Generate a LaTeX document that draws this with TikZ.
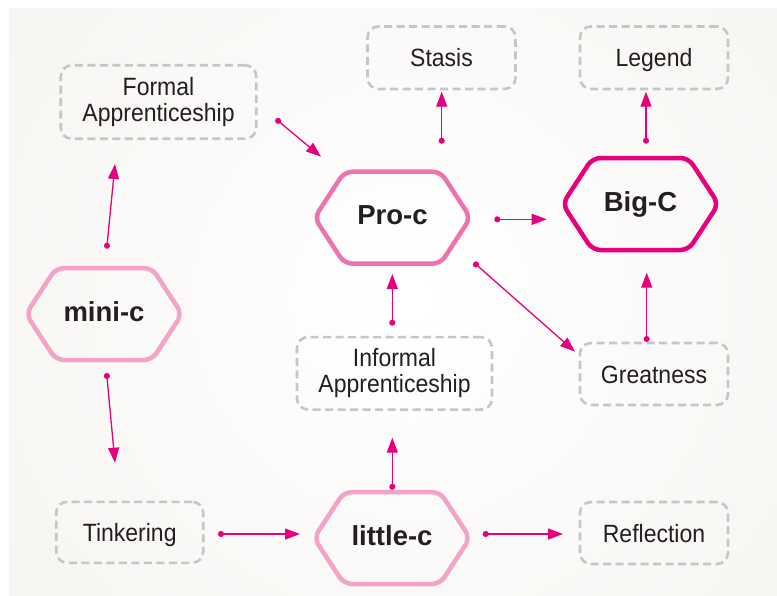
\documentclass[tikz,border=0pt]{standalone}
\usepackage{fontspec}
\setmainfont{Liberation Sans}
\newfontfamily\boxfont[FakeStretch=0.92]{Liberation Sans}
\usetikzlibrary{arrows.meta,calc}
\definecolor{bg}{HTML}{F2F0EB}
\definecolor{mag}{HTML}{E6007E}
\definecolor{pinkA}{HTML}{F5A2C9}
\definecolor{pinkB}{HTML}{EE72AB}
\definecolor{boxgray}{HTML}{C6C6C8}
\definecolor{txt}{HTML}{231F20}
\newcommand{\hexat}[2]{\draw[hexline,#2] ($(#1)+(-78,0)$) -- ($(#1)+(-48,-46)$) -- ($(#1)+(48,-46)$) -- ($(#1)+(78,0)$) -- ($(#1)+(48,46)$) -- ($(#1)+(-48,46)$) -- cycle;}
\begin{document}
\begin{tikzpicture}[x=1pt,y=-1pt,
  box/.style={draw=boxgray, line width=2.6pt, dash pattern=on 8pt off 4.5pt, rounded corners=11pt, inner sep=0pt, align=center, text=txt, font=\boxfont\fontsize{25}{26}\selectfont},
  onebox/.style={box, text height=18pt, text depth=0pt},
  hexn/.style={inner sep=0pt, minimum width=151pt, minimum height=92pt, text height=20pt, text depth=6pt, text=txt, font=\fontsize{27.5}{30}\selectfont\bfseries},
  hexline/.style={line width=4.5pt, rounded corners=8pt},
  conn/.style={draw=mag, line width=1.3pt, {Circle[length=6pt]}-{Triangle[length=15pt,width=11pt]}}
]
\useasboundingbox (0,0) rectangle (777,595);
\fill[white] (0,0) rectangle (777,595);
\fill[bg] (9,8) rectangle (777,595);
\begin{scope}
\clip (9,8) rectangle (777,595);
\shade[inner color=white, outer color=bg] (410,300) circle (740);
\end{scope}

% boxes
\node[box, minimum width=195.5pt, minimum height=73.5pt] (formal) at (158.5,102) {Formal\\Apprenticeship};
\node[onebox, minimum width=148pt, minimum height=62.5pt] (stasis) at (441.5,57.7) {Stasis};
\node[onebox, minimum width=148pt, minimum height=62.5pt] (legend) at (654,57.7) {Legend};
\node[box, minimum width=195pt, minimum height=72.5pt] (informal) at (394.5,373.3) {Informal\\Apprenticeship};
\node[onebox, minimum width=148pt, minimum height=62pt] (greatness) at (654,374) {Greatness};
\node[onebox, minimum width=147pt, minimum height=61pt] (tinker) at (129.7,532.3) {Tinkering};
\node[onebox, minimum width=148pt, minimum height=62pt] (reflect) at (654,533) {Reflection};

% hexagons
\node[hexn] (mini) at (104,314) {mini-c};
\node[hexn] (pro) at (392.5,217.7) {Pro-c};
\node[hexn] (bigc) at (640.5,204) {Big-C};
\node[hexn] (little) at (392,538) {little-c};
\hexat{mini}{pinkA}
\hexat{pro}{pinkB}
\hexat{bigc}{mag}
\hexat{little}{pinkA}

% connectors
\draw[conn] ($(mini)+(2.7,-65.3)$) -- ($(formal)+(-43.5,62)$);
\draw[conn] ($(formal)+(117.3,16.9)$) -- ($(pro)+(-71.5,-61)$);
\draw[conn] ($(pro)+(49.2,-74)$) -- ($(stasis)+(0.2,34)$);
\draw[conn] ($(bigc)+(5.5,-60.3)$) -- ($(legend)+(-8,34)$);
\draw[conn] ($(pro)+(101.8,1.6)$) -- ($(bigc)+(-93.8,15.3)$);
\draw[conn] ($(pro)+(81.2,44.7)$) -- ($(greatness)+(-79,-22.3)$);
\draw[conn] ($(greatness)+(-7.3,-32)$) -- ($(bigc)+(6.2,68.7)$);
\draw[conn] ($(informal)+(-2.2,-47.6)$) -- ($(pro)+(-0.2,56.3)$);
\draw[conn] ($(little)+(0.3,-48.3)$) -- ($(informal)+(-2.2,64.4)$);
\draw[conn] ($(mini)+(2.6,59)$) -- ($(tinker)+(-14.7,-69.6)$);
\draw[conn] ($(tinker)+(88.3,1.7)$) -- ($(little)+(-92,-4)$);
\draw[conn] ($(little)+(90.7,-4)$) -- ($(reflect)+(-91,1)$);
\end{tikzpicture}
\end{document}
